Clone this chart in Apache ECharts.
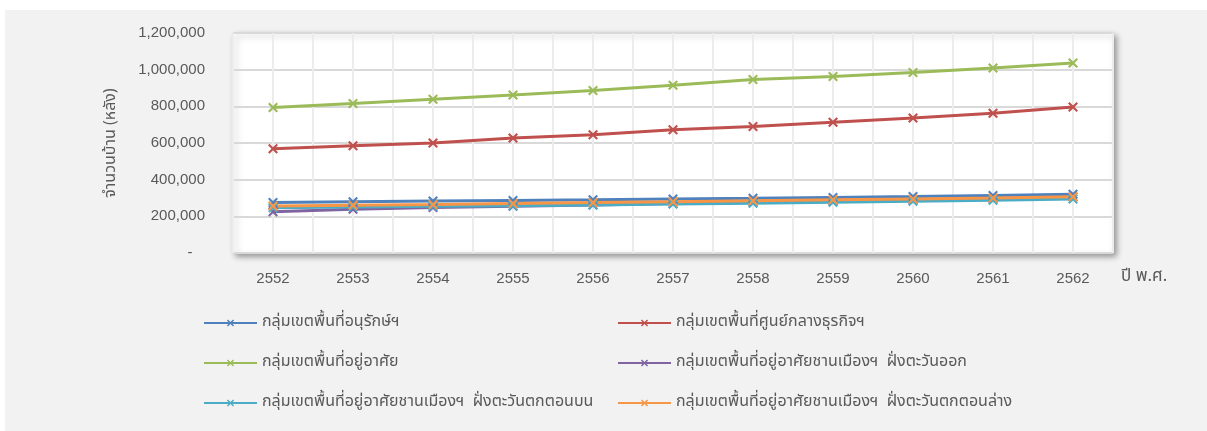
<!DOCTYPE html>
<html>
<head>
<meta charset="utf-8">
<script src="https://cdn.jsdelivr.net/npm/echarts@6/dist/echarts.min.js"></script>
<style>
  html, body { margin: 0; padding: 0; background: #fff; }
  #chart { width: 1207px; height: 431px; }
</style>
</head>
<body>
<div id="chart"></div>
<script>
// years (พ.ศ.)
var years = ['2552', '2553', '2554', '2555', '2556', '2557', '2558', '2559', '2560', '2561', '2562'];

var seriesNames = [
  'กลุ่มเขตพื้นที่อนุรักษ์ฯ',
  'กลุ่มเขตพื้นที่ศูนย์กลางธุรกิจฯ',
  'กลุ่มเขตพื้นที่อยู่อาศัย',
  'กลุ่มเขตพื้นที่อยู่อาศัยชานเมืองฯ  ฝั่งตะวันออก',
  'กลุ่มเขตพื้นที่อยู่อาศัยชานเมืองฯ  ฝั่งตะวันตกตอนบน',
  'กลุ่มเขตพื้นที่อยู่อาศัยชานเมืองฯ  ฝั่งตะวันตกตอนล่าง'
];

var conservation = [275000, 279000, 283000, 287000, 290000, 294000, 298000, 303000, 308000, 314000, 320000];
var business     = [568000, 585000, 600000, 627000, 645000, 672000, 690000, 713000, 737000, 762000, 797000];
var residential  = [793000, 815000, 838000, 862000, 887000, 915000, 947000, 963000, 985000, 1009000, 1036000];
var suburbEast   = [225000, 238000, 248000, 255000, 262000, 270000, 277000, 283000, 290000, 297000, 305000];
var suburbWestUp = [247000, 251000, 255000, 258000, 262000, 267000, 272000, 277000, 282000, 288000, 295000];
var suburbWestLo = [256000, 261000, 265000, 270000, 275000, 280000, 285000, 290000, 295000, 300000, 307000];

var colors = ['#4F81BD', '#C0504D', '#9BBB59', '#8064A2', '#4BACC6', '#F79646'];
var values = [conservation, business, residential, suburbEast, suburbWestUp, suburbWestLo];

var xMark = 'path://M0,1.5L1.5,0L5,3.5L8.5,0L10,1.5L6.5,5L10,8.5L8.5,10L5,6.5L1.5,10L0,8.5L3.5,5Z';
var textColor = '#595959';
var thaiFont = '"Noto Sans Thai", "Noto Sans", Tahoma, sans-serif';
var numFont = '"Liberation Sans", Arial, sans-serif';

var chart = echarts.init(document.getElementById('chart'));

var series = values.map(function (v, i) {
  return {
    name: seriesNames[i],
    type: 'line',
    data: v,
    symbol: xMark,
    symbolSize: 10,
    lineStyle: { color: colors[i], width: 3 },
    itemStyle: { color: colors[i] },
    emphasis: { disabled: true }
  };
});

// half-category positions for the lighter vertical grid lines
var halfSteps = [];
for (var k = 0; k < years.length * 2; k++) halfSteps.push(String(k));

function legendFor(idx, left) {
  return {
    orient: 'vertical',
    left: left,
    top: 315,
    padding: 0,
    itemWidth: 53,
    itemHeight: 9,
    itemGap: 24,
    data: idx.map(function (i) { return seriesNames[i]; }),
    textStyle: { color: textColor, fontSize: 16, fontFamily: thaiFont, padding: [0, 0, 0, 0] },
    selectedMode: false
  };
}

chart.setOption({
  animation: false,
  color: colors,
  graphic: [{
    type: 'rect',
    left: 5, top: 10,
    shape: { width: 1202, height: 421 },
    style: { fill: '#f2f2f2' },
    z: -10
  }],
  legend: [legendFor([0, 2, 4], 203), legendFor([1, 3, 5], 617)],
  grid: {
    left: 233, top: 33, width: 880, height: 220,
    show: true,
    backgroundColor: '#ffffff',
    borderColor: '#d9d9d9',
    borderWidth: 1,
    shadowColor: 'rgba(0,0,0,0.4)',
    shadowBlur: 6,
    shadowOffsetX: 3,
    shadowOffsetY: 3
  },
  xAxis: [{
    type: 'category',
    data: years,
    boundaryGap: true,
    axisLine: { show: false },
    axisTick: { show: false },
    splitLine: { show: false },
    axisLabel: { color: textColor, fontSize: 15, fontFamily: numFont, margin: 18 },
    name: 'ปี พ.ศ.',
    nameLocation: 'end',
    nameGap: 8,
    nameTextStyle: { color: textColor, fontSize: 17, fontFamily: thaiFont, verticalAlign: 'top', align: 'left', padding: [16, 0, 0, 0] }
  }, {
    type: 'category',
    data: halfSteps,
    boundaryGap: true,
    position: 'bottom',
    axisLine: { show: false },
    axisTick: { show: false },
    axisLabel: { show: false },
    splitLine: { show: true, lineStyle: { color: '#ececec', width: 2 } }
  }],
  yAxis: {
    type: 'value',
    min: 0,
    max: 1200000,
    interval: 200000,
    axisLine: { show: false },
    axisTick: { show: false },
    splitLine: { lineStyle: { color: '#d9d9d9', width: 2 } },
    axisLabel: {
      color: textColor, fontSize: 15, fontFamily: numFont, margin: 28,
      formatter: function (v) { return v === 0 ? '-   ' : v.toLocaleString('en-US'); }
    },
    name: 'จำนวนบ้าน (หลัง)',
    nameLocation: 'middle',
    nameGap: 113,
    nameTextStyle: { color: textColor, fontSize: 16, fontFamily: thaiFont }
  },
  series: series
});
</script>
</body>
</html>
